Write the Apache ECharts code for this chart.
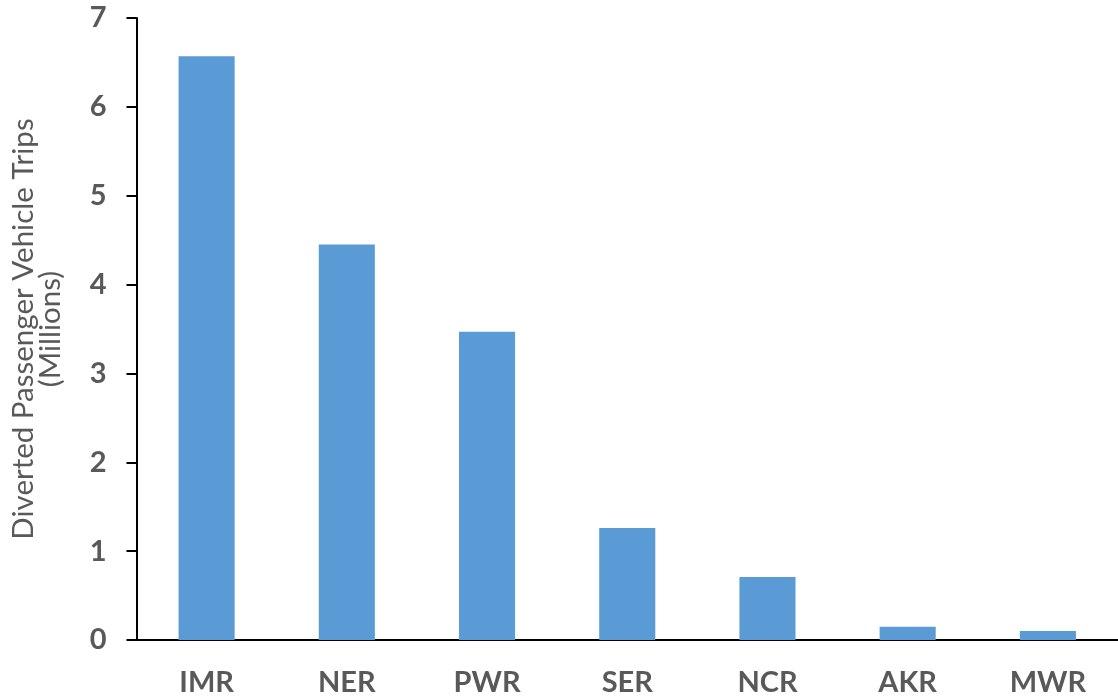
<!DOCTYPE html>
<html>
<head>
<meta charset="utf-8">
<script src="https://cdn.jsdelivr.net/npm/echarts@6/dist/echarts.min.js"></script>
<style>
  html, body { margin: 0; padding: 0; background: #ffffff; }
  #chart { width: 1118px; height: 698px; }
</style>
</head>
<body>
<div id="chart"></div>
<script>
// Diverted passenger vehicle trips by region (millions)
const regions = ['IMR', 'NER', 'PWR', 'SER', 'NCR', 'AKR', 'MWR'];
const tripsMillions = [6.57, 4.45, 3.47, 1.26, 0.71, 0.15, 0.10];
const yTicks = [0, 1, 2, 3, 4, 5, 6, 7];

const labelGray = '#595959';
const chart = echarts.init(document.getElementById('chart'));

chart.setOption({
  animation: false,
  grid: { left: 132, right: 0, top: 18, bottom: 58, containLabel: false },
  xAxis: {
    type: 'category',
    data: regions,
    axisLine: { lineStyle: { color: '#000000', width: 2 } },
    axisTick: { show: false },
    axisLabel: {
      color: labelGray, fontFamily: 'Lato', fontWeight: 'bold',
      fontSize: 29, margin: 28
    }
  },
  yAxis: {
    type: 'value',
    min: yTicks[0],
    max: yTicks[yTicks.length - 1],
    interval: 1,
    name: 'Diverted Passenger Vehicle Trips\n(Millions)',
    nameLocation: 'middle',
    nameRotate: 90,
    nameGap: 73,
    nameTextStyle: {
      color: labelGray, fontFamily: 'Lato', fontSize: 29.5, lineHeight: 27
    },
    splitLine: { show: false },
    axisLine: { show: true, lineStyle: { color: '#000000', width: 2 } },
    axisTick: { show: true, inside: false, length: 10, lineStyle: { color: '#000000', width: 2 } },
    axisLabel: {
      color: labelGray, fontFamily: 'Lato', fontWeight: 'bold',
      fontSize: 29, margin: 30
    }
  },
  series: [{
    type: 'bar',
    data: tripsMillions,
    barWidth: '40%',
    itemStyle: { color: '#5B9BD5' }
  }]
});
</script>
</body>
</html>
